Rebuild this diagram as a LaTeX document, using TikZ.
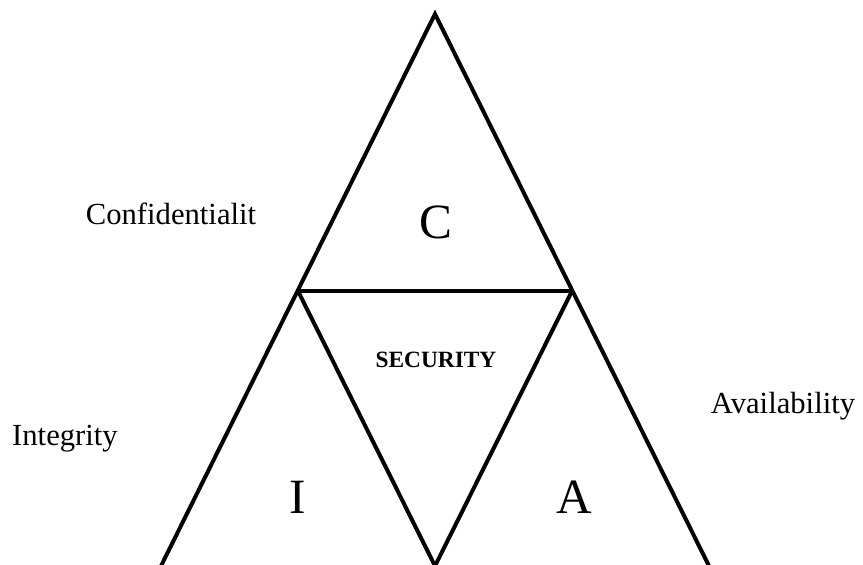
\documentclass[tikz,border=0pt]{standalone}
\usepackage{fontspec}
\setmainfont{Liberation Serif}
\begin{document}
\begin{tikzpicture}[x=0.75pt,y=-0.75pt,
  edge/.style={line width=3pt,line join=miter},
  side/.style={font=\fontsize{23}{27}\selectfont},
  letter/.style={font=\fontsize{37}{42}\selectfont},
  centre/.style={font=\fontsize{17.5}{20}\selectfont\bfseries}]
\useasboundingbox (0,0) rectangle (863,564);
\coordinate (top) at (435,14);
\coordinate (bl) at (161,566);
\coordinate (bm) at (435,566);
\coordinate (br) at (709,566);
\coordinate (ml) at (298,291);
\coordinate (mr) at (572,291);
\draw[edge] (bl) -- (top) -- (br);
\draw[edge] (ml) -- (mr);
\draw[edge] (ml) -- (bm) -- (mr);
\node[side] (conf) at (171,214) {Confidentialit};
\node[side] (avail) at (783,406) {Availability};
\node[side] (integ) at (65,439) {Integrity};
\node[letter] (c) at (436,222) {C};
\node[letter] (i) at (298,497) {I};
\node[letter] (a) at (574,497) {A};
\node[centre] (sec) at (436,360) {SECURITY};
\end{tikzpicture}
\end{document}
